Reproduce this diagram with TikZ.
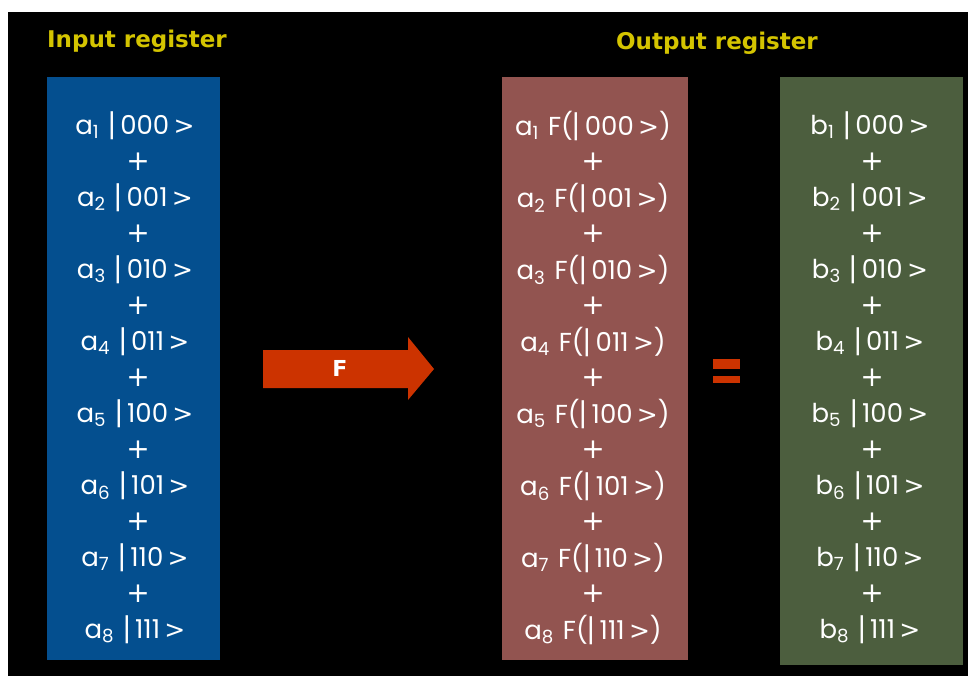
\documentclass[tikz,border=0pt]{standalone}
\usepackage{fontspec}
\setmainfont{Poppins}
\newfontfamily\titlefont{DejaVu Sans}
\usepackage{tikz}
\usetikzlibrary{positioning}
\definecolor{inblue}{RGB}{4,79,143}
\definecolor{outred}{RGB}{146,84,80}
\definecolor{outgreen}{RGB}{76,94,62}
\definecolor{ttlyellow}{RGB}{212,196,0}
\definecolor{fred}{RGB}{204,51,0}
\newcommand{\kgt}{{\titlefont\fontsize{25}{28}\selectfont >}}
\newcommand{\kbar}{\raisebox{-0.1em}{\scalebox{1}[1.2]{|}}}
\newcommand{\kterm}[3]{#1\textsubscript{#2}\hspace{0.35em}#3}
\begin{document}
\begin{tikzpicture}[x=1pt, y=-1pt,
  reg/.style={minimum width=#1, minimum height=583pt, inner sep=0pt},
  ttl/.style={text=ttlyellow, font=\titlefont\bfseries\fontsize{23}{26}\selectfont},
  ket/.style={text=white, font=\fontsize{26}{28}\selectfont, inner sep=0pt},
  plus/.style={text=white, font=\titlefont\fontsize{28}{30}\selectfont, inner sep=0pt}]
% frame
\fill[white] (0,0) rectangle (968,676);
\fill[black] (8,12) rectangle (968,676);
% titles
\node[ttl] (intitle) at (137,41) {Input register};
\node[ttl] (outtitle) at (717,43) {Output register};
% registers
\node[reg=173pt, fill=inblue] (inreg) at (133.5,368.5) {};
\node[reg=186pt, fill=outred] (outreg) at (595,368.5) {};
\node[reg=183pt, minimum height=588pt, fill=outgreen] (outval) at (871,371) {};
% terms
\foreach \k/\b in {1/000,2/001,3/010,4/011,5/100,6/101,7/110,8/111} {
  \node[ket] (a\k) at (135,{126+72*(\k-1)}) {\kterm{a}{\k}{\kbar\,\b\,\kgt}};
  \node[ket] (fa\k) at (593,{126+72*(\k-1)}) {\kterm{a}{\k}{F(\kbar\,\b\,\kgt)}};
  \node[ket] (b\k) at (870,{126+72*(\k-1)}) {\kterm{b}{\k}{\kbar\,\b\,\kgt}};
}
\foreach \k in {1,...,7} {
  \node[plus] (pa\k) at (138,{162+72*(\k-1)}) {+};
  \node[plus] (pf\k) at (593,{162+72*(\k-1)}) {+};
  \node[plus] (pb\k) at (872,{162+72*(\k-1)}) {+};
}
% map F
\fill[fred] (263,350) -- (408,350) -- (408,337) -- (434,369) -- (408,400)
  -- (408,388) -- (263,388) -- cycle;
\node[text=white, font=\titlefont\bfseries\fontsize{22}{24}\selectfont] (fmap) at (340,368) {F};
% equals
\fill[fred] (713,359) rectangle (740,369);
\fill[fred] (713,376) rectangle (740,383);
\end{tikzpicture}
\end{document}
